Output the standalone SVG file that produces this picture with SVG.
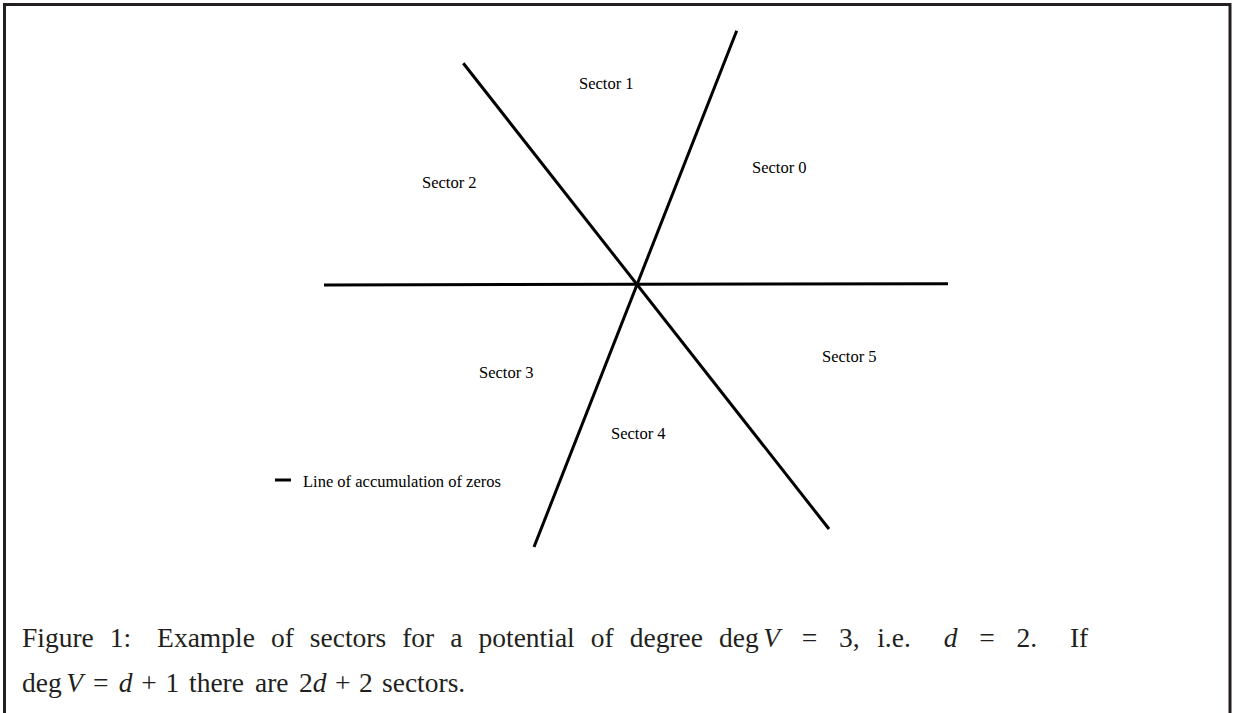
<svg xmlns="http://www.w3.org/2000/svg" width="1235" height="713" viewBox="0 0 1235 713">
<style>
.lbl{font-family:"Liberation Serif","Times New Roman",serif;font-size:16.5px;fill:#000}
.cap{font-family:"Liberation Serif","Times New Roman",serif;font-size:27.5px;fill:#231f20}
.it{font-style:italic}
.ray{stroke:#000;stroke-width:3;fill:none;stroke-linecap:butt}
</style>
<rect width="1235" height="713" fill="#fff"/>
<path d="M4.5,713 V4.5 H1230 V713" fill="none" stroke="#231f20" stroke-width="3"/>
<g id="connectors">
<line class="ray" x1="736.7" y1="30.7" x2="534" y2="547"/>
<line class="ray" x1="463.3" y1="63.3" x2="829" y2="529"/>
<line class="ray" x1="324" y1="285" x2="948" y2="283.7"/>
</g>
<g id="sector0"><text class="lbl" x="752" y="172.7">Sector 0</text></g>
<g id="sector1"><text class="lbl" x="579" y="89.3">Sector 1</text></g>
<g id="sector2"><text class="lbl" x="422" y="187.7">Sector 2</text></g>
<g id="sector3"><text class="lbl" x="479" y="378.3">Sector 3</text></g>
<g id="sector4"><text class="lbl" x="611" y="439">Sector 4</text></g>
<g id="sector5"><text class="lbl" x="822" y="362">Sector 5</text></g>
<g id="legend">
<line x1="275" y1="480" x2="291" y2="480" stroke="#000" stroke-width="3"/>
<text class="lbl" x="303" y="486.7">Line of accumulation of zeros</text>
</g>
<g id="caption">
<text class="cap" y="647"><tspan x="22">Figure</tspan><tspan x="109.8">1:</tspan><tspan x="157.1">Example</tspan><tspan x="270.9">of</tspan><tspan x="309.8">sectors</tspan><tspan x="402.2">for</tspan><tspan x="450.3">a</tspan><tspan x="478.5">potential</tspan><tspan x="590.8">of</tspan><tspan x="629.7">degree</tspan><tspan x="719">deg</tspan><tspan class="it" x="763.2">V</tspan><tspan x="801.7">=</tspan><tspan x="838.9">3,</tspan><tspan x="877.2">i.e.</tspan><tspan class="it" x="943.7">d</tspan><tspan x="979.2">=</tspan><tspan x="1016.4">2.</tspan><tspan x="1069.9">If</tspan></text>
<text class="cap" y="692"><tspan x="22">deg</tspan><tspan class="it" x="66.2">V</tspan><tspan x="93.1">=</tspan><tspan class="it" x="118.7">d</tspan><tspan x="141.2">+</tspan><tspan x="165.4">1</tspan><tspan x="189">there</tspan><tspan x="255">are</tspan><tspan x="299">2</tspan><tspan class="it" x="312.8">d</tspan><tspan x="335">+</tspan><tspan x="359">2</tspan><tspan x="382">sectors.</tspan></text>
</g>
</svg>
